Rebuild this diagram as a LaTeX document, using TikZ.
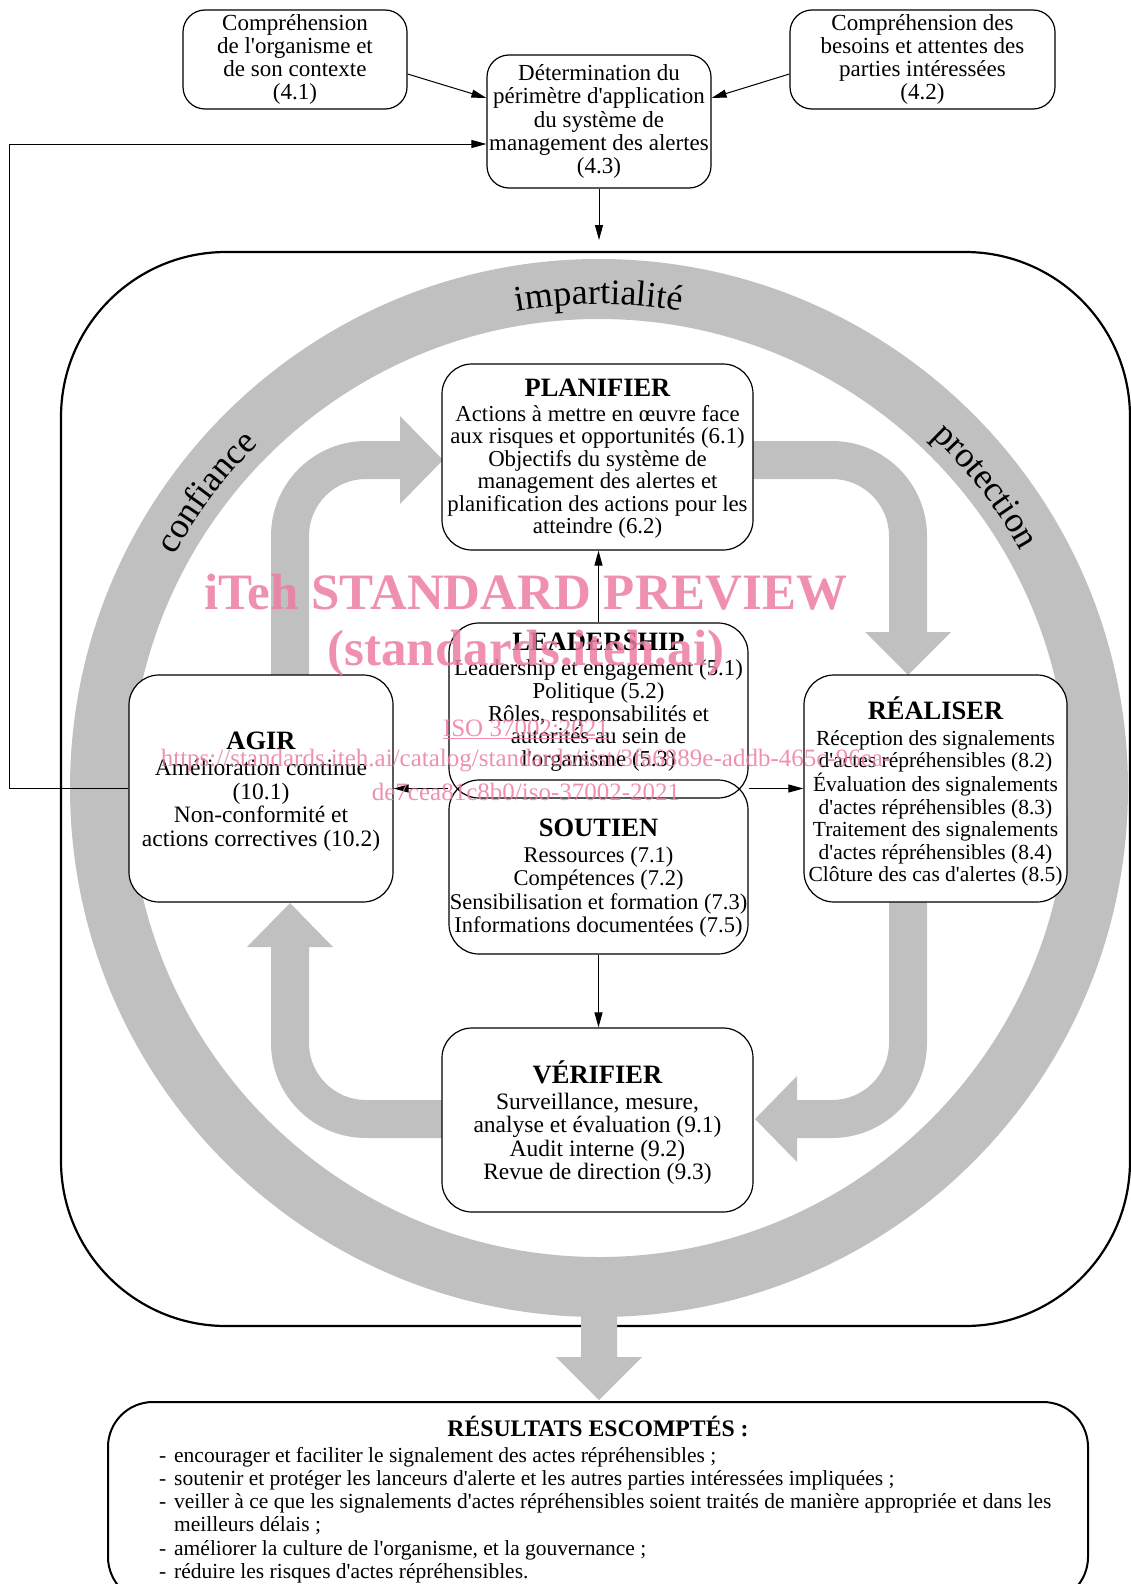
\documentclass[tikz,border=0pt]{standalone}
\usepackage{fontspec}
\setmainfont{Liberation Serif}
\usetikzlibrary{arrows.meta,decorations.text,calc}
\definecolor{ringgray}{RGB}{192,192,192}
\definecolor{wmpink}{RGB}{236,126,160}
\newcommand{\apos}{\textquotesingle}
\newcommand{\ttl}[1]{{\fontsize{26.5}{26.5}\selectfont\bfseries #1}\\[3pt]}
\newcommand{\dashitem}{\makebox[15pt][l]{-}}
\newcommand{\nodashitem}{\makebox[15pt][l]{}}
\begin{document}
\begin{tikzpicture}[x=1pt,y=-1pt,
  box/.style={draw, line width=1.2pt, rounded corners=22pt, fill=white, inner sep=0pt, align=center, font=\fontsize{23}{23.2}\selectfont},
  mainbox/.style={draw, line width=1.2pt, rounded corners=30pt, fill=white, inner sep=0pt},
  btxt/.style={align=center, inner sep=0pt},
  conn/.style={line width=1pt, -{Triangle[length=15pt,width=8pt]}},
  garrow/.style={fill=ringgray},
  wm/.style={text=wmpink, text opacity=0.85, inner sep=0pt},
  ringlbl/.style={decorate, decoration={text along path, text align=center, text={#1}}}
]
\useasboundingbox (0,0) rectangle (1131,1584);
\clip (0,0) rectangle (1131,1584);

% outer frame
\node[draw, line width=2.2pt, rounded corners=165pt, minimum width=1069, minimum height=1074, inner sep=0pt] (pdca) at (595.5,789) {};

% ring
\fill[ringgray, even odd rule] (599,788) circle[radius=529] (599,788) circle[radius=469];

% block arrows
\fill[garrow] (271,700) -- (271,536) arc[start angle=180,end angle=270,radius=95] -- (400,441) -- (400,416) -- (443,460) -- (400,504) -- (400,479) -- (366,479) arc[start angle=270,end angle=180,radius=57] -- (309,700) -- cycle;
\fill[garrow] (740,441) -- (832,441) arc[start angle=270,end angle=360,radius=95] -- (927,632) -- (951,632) -- (908,675) -- (865,632) -- (889,632) -- (889,536) arc[start angle=0,end angle=-90,radius=57] -- (740,479) -- cycle;
\fill[garrow] (927,890) -- (927,1043) arc[start angle=0,end angle=90,radius=95] -- (797,1138) -- (797,1162) -- (755,1119) -- (797,1076) -- (797,1100) -- (832,1100) arc[start angle=90,end angle=0,radius=57] -- (889,890) -- cycle;
\fill[garrow] (455,1138) -- (366,1138) arc[start angle=90,end angle=180,radius=95] -- (271,947) -- (247,947) -- (290,903) -- (333,947) -- (309,947) -- (309,1043) arc[start angle=180,end angle=90,radius=57] -- (455,1100) -- cycle;
\fill[garrow] (581,1270) -- (581,1357) -- (556,1357) -- (599,1400) -- (642,1357) -- (617,1357) -- (617,1270) -- cycle;

% ring labels
\path[ringlbl={|\fontsize{36}{36}\selectfont|impartialité}] (599,788) ++(250:484) arc[start angle=250,end angle=290,radius=484];
\path[ringlbl={|\fontsize{36}{36}\selectfont|confiance}] (599,788) ++(197:484) arc[start angle=197,end angle=237,radius=484];
\path[ringlbl={|\fontsize{36}{36}\selectfont|protection}] (599,788) ++(302:484) arc[start angle=302,end angle=342,radius=484];

% top boxes
\node[box, minimum width=224, minimum height=99] (b41) at (295,59.5) {Compréhension\\de l\apos organisme et\\de son contexte\\(4.1)};
\node[box, minimum width=224, minimum height=133] (b43) at (599,121.5) {Détermination du\\périmètre d\apos application\\du système de\\management des alertes\\(4.3)};
\node[box, minimum width=265, minimum height=99] (b42) at (922.5,59.5) {Compréhension des\\besoins et attentes des\\parties intéressées\\(4.2)};

% main boxes
\node[mainbox, minimum width=311, minimum height=186] (plan) at (597.5,457) {};
\node[mainbox, fill=none, minimum width=299, minimum height=175] (lead) at (598.5,710.5) {};
\node[mainbox, fill=none, minimum width=299, minimum height=174] (sout) at (598.5,867) {};
\node[mainbox, minimum width=264, minimum height=227] (agir) at (261,788.5) {};
\node[mainbox, minimum width=263, minimum height=227] (real) at (935.5,788.5) {};
\node[mainbox, minimum width=311, minimum height=184] (verif) at (597.5,1120) {};

\node[btxt, font=\fontsize{22.8}{22.4}\selectfont] (planT) at (597.5,458.5) {\ttl{PLANIFIER}Actions à mettre en œuvre face\\aux risques et opportunités (6.1)\\Objectifs du système de\\management des alertes et\\planification des actions pour les\\atteindre (6.2)};
\node[btxt, font=\fontsize{22.8}{22.7}\selectfont] (leadT) at (598.5,702) {\ttl{LEADERSHIP}Leadership et engagement (5.1)\\Politique (5.2)\\Rôles, responsabilités et\\autorités au sein de\\l\apos organisme (5.3)};
\node[btxt, font=\fontsize{22.5}{23.2}\selectfont] (soutT) at (598.5,878) {\ttl{SOUTIEN}Ressources (7.1)\\Compétences (7.2)\\Sensibilisation et formation (7.3)\\Informations documentées (7.5)};
\node[btxt, font=\fontsize{23.5}{23.4}\selectfont] (agirT) at (261,791.5) {\ttl{AGIR}Amélioration continue\\(10.1)\\Non-conformité et\\actions correctives (10.2)};
\node[btxt, font=\fontsize{21.5}{22.5}\selectfont] (realT) at (935.5,791.5) {\ttl{RÉALISER}Réception des signalements\\d\apos actes répréhensibles (8.2)\\Évaluation des signalements\\d\apos actes répréhensibles (8.3)\\Traitement des signalements\\d\apos actes répréhensibles (8.4)\\Clôture des cas d\apos alertes (8.5)};
\node[btxt, font=\fontsize{23.5}{23.2}\selectfont] (verifT) at (597.5,1122.5) {\ttl{VÉRIFIER}Surveillance, mesure,\\analyse et évaluation (9.1)\\Audit interne (9.2)\\Revue de direction (9.3)};

% results box
\node[draw, fill=white, line width=2pt, rounded corners=45pt, minimum width=980, minimum height=200, inner sep=0pt] (res) at (598,1502) {};
\node[inner sep=0pt, font=\fontsize{23.7}{23.7}\selectfont\bfseries] (resT) at (598,1426) {RÉSULTATS ESCOMPTÉS :};
\node[anchor=west, align=left, inner sep=0pt, font=\fontsize{21.5}{23.2}\selectfont] (resL) at (159,1515) {\dashitem encourager et faciliter le signalement des actes répréhensibles ;\\
\dashitem soutenir et protéger les lanceurs d\apos alerte et les autres parties intéressées impliquées ;\\
\dashitem veiller à ce que les signalements d\apos actes répréhensibles soient traités de manière appropriée et dans les\\
\nodashitem meilleurs délais ;\\
\dashitem améliorer la culture de l\apos organisme, et la gouvernance ;\\
\dashitem réduire les risques d\apos actes répréhensibles.};

% connectors
\coordinate (tgt) at (599,240);
\draw[conn] ([yshift=-14.5pt]b41.east) -- ([yshift=23.5pt]b43.west);
\draw[conn] ([yshift=-14.5pt]b42.west) -- ([yshift=23.5pt]b43.east);
\draw[conn] (b43.south) -- (tgt);
\draw[conn] (agir.west) -- ++(-119,0) |- ([yshift=-22.5pt]b43.west);
\draw[conn] (lead.north) -- (lead.north |- plan.south);
\draw[conn] (lead.south west |- agir.east) -- (agir.east);
\draw[conn] (lead.south east |- real.west) -- (real.west);
\draw[conn] (sout.south) -- (sout.south |- verif.north);

% watermark
\node[wm, font=\fontsize{51}{51}\selectfont\bfseries] (wm1) at (526,592) {iTeh STANDARD PREVIEW};
\node[wm, font=\fontsize{51}{51}\selectfont\bfseries] (wm2) at (526,653) {(standards.iteh.ai)};
\node[wm, font=\fontsize{25}{25}\selectfont] (wm3) at (526,729) {\underline{ISO 37002:2021}};
\node[wm, font=\fontsize{25}{25}\selectfont] (wm4) at (526,760) {https://standards.iteh.ai/catalog/standards/sist/3fa6889e-addb-465c-96ea-};
\node[wm, font=\fontsize{25}{25}\selectfont] (wm5) at (526,792) {de7cea81c8b0/iso-37002-2021};
\end{tikzpicture}
\end{document}
